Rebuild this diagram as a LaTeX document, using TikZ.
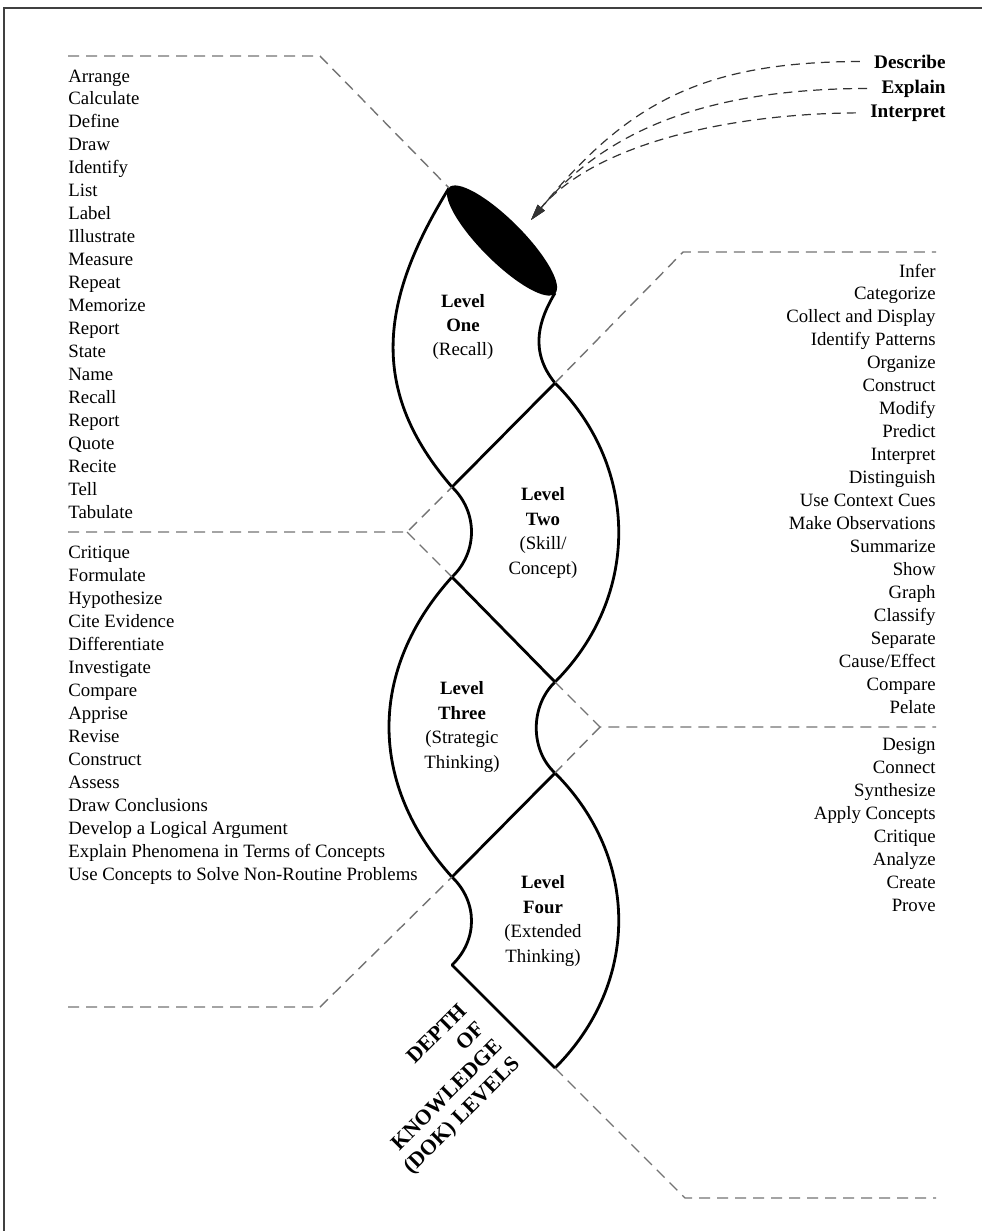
\documentclass[tikz,border=0pt]{standalone}
\usepackage{fontspec}
\setmainfont{Liberation Serif}
\usetikzlibrary{arrows.meta}

\begin{document}
\begin{tikzpicture}[x=0.5pt, y=-0.5pt,
  ribbon/.style={line width=1.4pt, line join=round},
  divider/.style={dash pattern=on 5.5pt off 3.5pt, line width=0.7pt, black!55},
  pointer/.style={dash pattern=on 4.5pt off 3pt, line width=0.6pt, black!80, -{Triangle[length=8pt,width=4.5pt]}},
  wordl/.style={anchor=base west, inner sep=0pt, font=\fontsize{9.4}{11}\selectfont},
  wordr/.style={anchor=base east, inner sep=0pt, font=\fontsize{9.4}{11}\selectfont},
  levelbox/.style={align=center, inner sep=0pt, font=\fontsize{9.4}{12.2}\selectfont}]

\useasboundingbox (0,0) rectangle (982,1231);

% frame
\draw[black!75, line width=1pt] (4,1231) -- (4,8) -- (982,8);

% crossing points of the ribbon
\coordinate (e1) at (449,188);
\coordinate (e2) at (555,293);
\coordinate (l1) at (452,487);
\coordinate (r1) at (555,383);
\coordinate (l2) at (452,577);
\coordinate (r2) at (555,682);
\coordinate (r3) at (555,773);
\coordinate (l3) at (452,877);
\coordinate (l4) at (452,965);
\coordinate (r4) at (555,1068);
\coordinate (tip) at (531,220);

% opening of the ribbon
\fill[rotate around={-45:(502,240.5)}] (502,240.5) ellipse [x radius=75, y radius=21];

% level one
\draw[ribbon] (e1) .. controls (380,300) and (368,390) .. (l1) -- (r1);
\draw[ribbon] (e2) .. controls (540,318) and (528,350) .. (r1);
\node[levelbox] (one) at (463,327) {\textbf{Level}\\\textbf{One}\\(Recall)};

% level two
\draw[ribbon] (l1) .. controls (478,512) and (478,552) .. (l2) -- (r2);
\draw[ribbon] (r1) .. controls (640,468) and (640,597) .. (r2);
\node[levelbox] (two) at (543,533) {\textbf{Level}\\\textbf{Two}\\(Skill/\\Concept)};

% level three
\draw[ribbon] (l2) .. controls (368,670) and (368,784) .. (l3) -- (r3);
\draw[ribbon] (r2) .. controls (530,706) and (530,750) .. (r3);
\node[levelbox] (three) at (462,727) {\textbf{Level}\\\textbf{Three}\\(Strategic\\Thinking)};

% level four
\draw[ribbon] (l3) .. controls (478,902) and (478,940) .. (l4) -- (r4);
\draw[ribbon] (r3) .. controls (640,858) and (640,983) .. (r4);
\node[levelbox] (four) at (543,921) {\textbf{Level}\\\textbf{Four}\\(Extended\\Thinking)};

% title along the bottom edge
\node[rotate=45, anchor=east, align=right, inner sep=0pt, font=\bfseries\fontsize{10.8}{12.5}\selectfont] (dok) at (491,1035) {DEPTH\\OF\\KNOWLEDGE\\(DOK) LEVELS};

% dashed dividers
\draw[divider] (68,56) -- (320,56) -- (e1);
\draw[divider] (68,532) -- (407,532) -- (l1);
\draw[divider] (407,532) -- (l2);
\draw[divider] (r1) -- (683,252) -- (936,252);
\draw[divider] (r2) -- (600,727) -- (936,727);
\draw[divider] (600,727) -- (r3);
\draw[divider] (68,1007) -- (320,1007) -- (l3);
\draw[divider] (r4) -- (685,1198) -- (936,1198);

% verbs for level one
\foreach \w [count=\i from 0] in {Arrange, Calculate, Define, Draw, Identify, List, Label, Illustrate, Measure, Repeat, Memorize, Report, State, Name, Recall, Report, Quote, Recite, Tell, Tabulate}
  \node[wordl] (vone-\i) at (68, 82+\i*22.95) {\w};

% verbs for level two
\foreach \w [count=\i from 0] in {Infer, Categorize, Collect and Display, Identify Patterns, Organize, Construct, Modify, Predict, Interpret, Distinguish, Use Context Cues, Make Observations, Summarize, Show, Graph, Classify, Separate, Cause/Effect, Compare, Pelate}
  \node[wordr] (vtwo-\i) at (936, 277+\i*22.95) {\w};

% verbs for level three
\foreach \w [count=\i from 0] in {Critique, Formulate, Hypothesize, Cite Evidence, Differentiate, Investigate, Compare, Apprise, Revise, Construct, Assess, Draw Conclusions, Develop a Logical Argument, Explain Phenomena in Terms of Concepts, Use Concepts to Solve Non-Routine Problems}
  \node[wordl] (vthree-\i) at (68, 558+\i*23) {\w};

% verbs for level four
\foreach \w [count=\i from 0] in {Design, Connect, Synthesize, Apply Concepts, Critique, Analyze, Create, Prove}
  \node[wordr] (vfour-\i) at (936, 750+\i*23.14) {\w};

% verbs that fit every level
\node[wordr, font=\bfseries\fontsize{9.6}{11}\selectfont] (desc) at (946,68) {Describe};
\node[wordr, font=\bfseries\fontsize{9.6}{11}\selectfont] (expl) at (946,93) {Explain};
\node[wordr, font=\bfseries\fontsize{9.6}{11}\selectfont] (intp) at (946,117) {Interpret};
\draw[pointer, shorten <=7pt] (desc.west) .. controls (700,62) and (627,104) .. (tip);
\draw[pointer, shorten <=7pt] (expl.west) .. controls (710,89) and (608,128) .. (tip);
\draw[pointer, shorten <=7pt] (intp.west) .. controls (720,114) and (592,147) .. (tip);

\end{tikzpicture}
\end{document}
